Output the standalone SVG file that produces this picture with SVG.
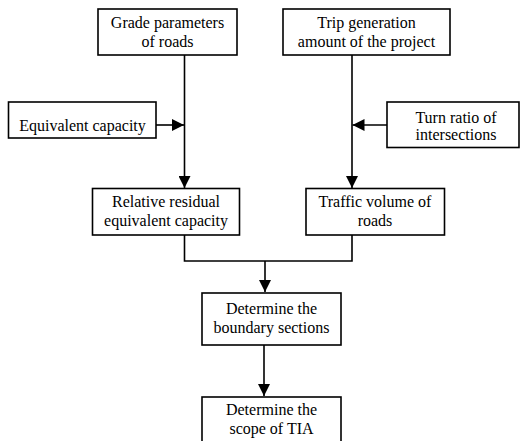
<svg xmlns="http://www.w3.org/2000/svg" width="520" height="441" viewBox="0 0 520 441">
<defs>
<marker id="ah" markerUnits="userSpaceOnUse" markerWidth="12" markerHeight="12" refX="12" refY="6" orient="auto">
<path d="M0,0 L12,6 L0,12 Z" fill="#000"/>
</marker>
<style>
.box{fill:#fff;stroke:#000;stroke-width:1.6}
.ln{fill:none;stroke:#000;stroke-width:1.6}
text{font-size:16px;fill:#000;text-anchor:middle}
</style>
</defs>
<rect width="520" height="441" fill="#fff"/>
<g id="connectors">
<path class="ln" d="M184.5,55 V188" marker-end="url(#ah)"/>
<path class="ln" d="M352,55 V188" marker-end="url(#ah)"/>
<path class="ln" d="M156,125 H184" marker-end="url(#ah)"/>
<path class="ln" d="M387,125 H352.5" marker-end="url(#ah)"/>
<path class="ln" d="M184.5,235 V261 H352 V235"/>
<path class="ln" d="M265,261 V292" marker-end="url(#ah)"/>
<path class="ln" d="M264,345 V396" marker-end="url(#ah)"/>
</g>
<g font-family="Liberation Serif, DejaVu Serif, serif">
<g id="grade">
<rect class="box" x="98" y="9" width="139" height="46"/>
<text x="167.5" y="28">Grade parameters</text>
<text x="167.5" y="46.5">of roads</text>
</g>
<g id="trip">
<rect class="box" x="283" y="9" width="167" height="46"/>
<text x="366.5" y="28">Trip generation</text>
<text x="366.5" y="46.5">amount of the project</text>
</g>
<g id="equiv">
<rect class="box" x="8.5" y="102" width="147.5" height="36"/>
<text x="82.5" y="131">Equivalent capacity</text>
</g>
<g id="turn">
<rect class="box" x="387" y="102" width="132" height="45.5"/>
<text x="456" y="122.5">Turn ratio of</text>
<text x="456" y="139.5">intersections</text>
</g>
<g id="relative">
<rect class="box" x="92.5" y="188.5" width="147" height="46.5"/>
<text x="166" y="207">Relative residual</text>
<text x="166" y="226">equivalent capacity</text>
</g>
<g id="traffic">
<rect class="box" x="306" y="188.5" width="138.5" height="46.5"/>
<text x="375" y="207">Traffic volume of</text>
<text x="375" y="226">roads</text>
</g>
<g id="boundary">
<rect class="box" x="202" y="293" width="139" height="52"/>
<text x="271.5" y="314">Determine the</text>
<text x="271.5" y="333">boundary sections</text>
</g>
<g id="scope">
<rect class="box" x="202" y="397" width="139" height="52"/>
<text x="271.5" y="415">Determine the</text>
<text x="271.5" y="434">scope of TIA</text>
</g>
</g>
</svg>
